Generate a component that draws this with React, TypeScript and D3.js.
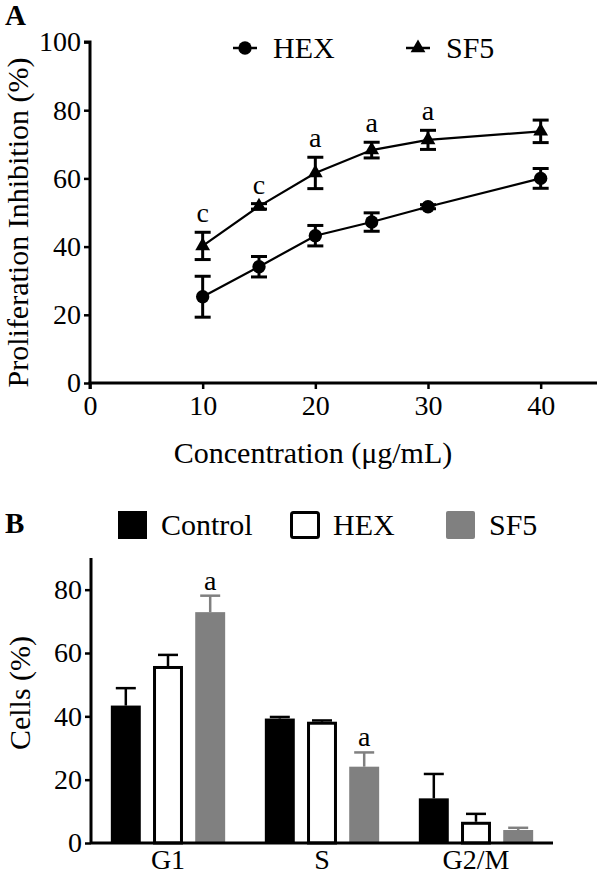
import React, { useEffect, useRef } from 'react';
import * as d3 from 'd3';

// Panel A: proliferation inhibition vs concentration
const concentrations = [10, 15, 20, 25, 30, 40];
const hexMean = [25.3, 34.1, 43.2, 47.2, 51.7, 60.0];
const hexErr = [6.0, 3.0, 3.0, 2.7, 0.6, 2.9];
const sf5Mean = [40.2, 51.8, 61.6, 68.3, 71.3, 73.8];
const sf5Err = [4.0, 0.8, 4.6, 2.3, 2.8, 3.3];
const sf5Marks = ['c', 'c', 'a', 'a', 'a', ''];
const xTicksA = [0, 10, 20, 30, 40];
const yTicksA = [0, 20, 40, 60, 80, 100];

// Panel B: cell cycle distribution
const phases = ['G1', 'S', 'G2/M'];
const groups = ['Control', 'HEX', 'SF5'];
const controlCells = [43.4, 39.3, 14.1];
const controlErr = [5.5, 0.5, 7.7];
const hexCells = [55.9, 38.3, 6.7];
const hexCellsErr = [3.5, 0.4, 2.5];
const sf5Cells = [72.9, 24.1, 4.1];
const sf5CellsErr = [5.2, 4.5, 0.7];
const sf5CellMarks = ['a', 'a', ''];
const yTicksB = [0, 20, 40, 60, 80];

const GRAY = '#808080';
const FONT = "'Liberation Serif', Tinos, 'Times New Roman', Times, 'Nimbus Roman', 'Nimbus Roman No9 L', FreeSerif, 'Noto Serif', 'DejaVu Serif', serif";

const App = () => {
  const ref = useRef<SVGSVGElement>(null);

  useEffect(() => {
    const svg = d3.select(ref.current);
    svg.selectAll('*').remove();

    // ---------- Panel A ----------
    const x = d3.scaleLinear().domain([0, 45]).range([90, 597]);
    const y = d3.scaleLinear().domain([0, 100]).range([383, 42]);
    const a = svg.append('g');

    a.append('text').attr('x', 5).attr('y', 25).style('font-size', '29px')
      .attr('font-weight', 'bold').text('A');

    const yAxisA = a.append('g').attr('transform', `translate(${x(0)},0)`)
      .call(d3.axisLeft(y).tickValues(yTicksA).tickSize(6).tickPadding(3));
    const xAxisA = a.append('g').attr('transform', `translate(0,${y(0)})`)
      .call(d3.axisBottom(x).tickValues(xTicksA).tickSize(6).tickPadding(6));
    [yAxisA, xAxisA].forEach(ax => {
      ax.attr('font-family', null).attr('font-size', null);
      ax.select('.domain').attr('stroke-width', 3);
      ax.selectAll('.tick line').attr('stroke-width', 2.5);
      ax.selectAll('.tick text').style('font-size', '28px').attr('fill', '#000');
    });
    yAxisA.select('.domain').attr('d', `M-6,${y(100)}H0V${y(0)}`);
    xAxisA.select('.domain').attr('d', `M${x(0)},6V0H${x(45)}`);

    a.append('text').attr('transform', `translate(28,${(y(0) + y(100)) / 2 + 10}) rotate(-90)`)
      .attr('text-anchor', 'middle').style('font-size', '30px').text('Proliferation Inhibition (%)');
    a.append('text').attr('x', 313).attr('y', 463).attr('text-anchor', 'middle')
      .style('font-size', '30px').text('Concentration (\u03bcg/mL)');

    const series = [
      { name: 'HEX', mean: hexMean, err: hexErr, symbol: d3.symbolCircle, size: 140 },
      { name: 'SF5', mean: sf5Mean, err: sf5Err, symbol: d3.symbolTriangle, size: 95 },
    ];
    const line = d3.line<number>().x((_, i) => x(concentrations[i])).y(d => y(d));

    series.forEach(s => {
      a.append('path').attr('d', line(s.mean)).attr('fill', 'none')
        .attr('stroke', '#000').attr('stroke-width', 2.2);
      s.mean.forEach((m, i) => {
        const cx = x(concentrations[i]);
        const top = y(m + s.err[i]);
        const bot = y(m - s.err[i]);
        const eb = a.append('g').attr('stroke', '#000').attr('stroke-width', 3);
        eb.append('line').attr('x1', cx).attr('x2', cx).attr('y1', top).attr('y2', bot);
        eb.append('line').attr('x1', cx - 8).attr('x2', cx + 8).attr('y1', top).attr('y2', top);
        eb.append('line').attr('x1', cx - 8).attr('x2', cx + 8).attr('y1', bot).attr('y2', bot);
        a.append('path').attr('d', d3.symbol(s.symbol, s.size)())
          .attr('transform', `translate(${cx},${y(m)})`).attr('fill', '#000');
      });
    });

    sf5Mean.forEach((m, i) => {
      if (!sf5Marks[i]) return;
      a.append('text').attr('x', x(concentrations[i])).attr('y', y(m + sf5Err[i]) - 10)
        .attr('text-anchor', 'middle').style('font-size', '28px').text(sf5Marks[i]);
    });

    // legend A
    const legA = [
      { name: 'HEX', symbol: d3.symbolCircle, size: 140, cx: 245 },
      { name: 'SF5', symbol: d3.symbolTriangle, size: 95, cx: 418 },
    ];
    legA.forEach(l => {
      a.append('line').attr('x1', l.cx - 12).attr('x2', l.cx + 12).attr('y1', 48).attr('y2', 48)
        .attr('stroke', '#000').attr('stroke-width', 2.5);
      a.append('path').attr('d', d3.symbol(l.symbol, l.size)())
        .attr('transform', `translate(${l.cx},48)`).attr('fill', '#000');
      a.append('text').attr('x', l.cx + 28).attr('y', 58).style('font-size', '30px').text(l.name);
    });

    // ---------- Panel B ----------
    const b = svg.append('g');
    const xB = d3.scaleBand().domain(phases).range([91, 553]);
    const xG = d3.scaleBand().domain(groups).range([0, xB.bandwidth()])
      .paddingInner(0.29).paddingOuter(0.47);
    const yB = d3.scaleLinear().domain([0, 90]).range([843, 558]);

    b.append('text').attr('x', 5).attr('y', 533).style('font-size', '29px')
      .attr('font-weight', 'bold').text('B');

    const values = [controlCells, hexCells, sf5Cells];
    const errs = [controlErr, hexCellsErr, sf5CellsErr];
    groups.forEach((g, gi) => {
      phases.forEach((p, pi) => {
        const v = values[gi][pi];
        const bx = xB(p)! + xG(g)!;
        const bw = xG.bandwidth();
        const col = g === 'SF5' ? GRAY : '#000';
        const topE = yB(v + errs[gi][pi]);
        const cx = bx + bw / 2;
        b.append('line').attr('x1', cx).attr('x2', cx).attr('y1', yB(v)).attr('y2', topE)
          .attr('stroke', col).attr('stroke-width', 2.5);
        b.append('line').attr('x1', cx - 10).attr('x2', cx + 10).attr('y1', topE).attr('y2', topE)
          .attr('stroke', col).attr('stroke-width', 2.5);
        if (g === 'HEX') {
          b.append('rect').attr('x', bx + 1.5).attr('y', yB(v) + 1.5)
            .attr('width', bw - 3).attr('height', yB(0) - yB(v) - 1.5)
            .attr('fill', '#fff').attr('stroke', '#000').attr('stroke-width', 3);
        } else {
          b.append('rect').attr('x', bx).attr('y', yB(v))
            .attr('width', bw).attr('height', yB(0) - yB(v)).attr('fill', col);
        }
      });
    });

    sf5Cells.forEach((v, i) => {
      if (!sf5CellMarks[i]) return;
      b.append('text').attr('x', xB(phases[i])! + xG('SF5')! + xG.bandwidth() / 2)
        .attr('y', yB(v + sf5CellsErr[i]) - 6).attr('text-anchor', 'middle')
        .style('font-size', '28px').text(sf5CellMarks[i]);
    });

    const yAxisB = b.append('g').attr('transform', `translate(91,0)`)
      .call(d3.axisLeft(yB).tickValues(yTicksB).tickSize(6).tickPadding(3));
    const xAxisB = b.append('g').attr('transform', `translate(0,${yB(0)})`)
      .call(d3.axisBottom(xB).tickSize(0).tickPadding(6));
    [yAxisB, xAxisB].forEach(ax => {
      ax.attr('font-family', null).attr('font-size', null);
      ax.select('.domain').attr('stroke-width', 3);
      ax.selectAll('.tick line').attr('stroke-width', 2.5);
      ax.selectAll('.tick text').style('font-size', '28px').attr('fill', '#000');
    });
    yAxisB.select('.domain').attr('d', `M0,${yB(90)}V${yB(0)}`);
    xAxisB.select('.domain').attr('d', `M91,0H553`);

    b.append('text').attr('transform', `translate(30,${693}) rotate(-90)`)
      .attr('text-anchor', 'middle').style('font-size', '30px').text('Cells (%)');

    // legend B
    const legB = [
      { name: 'Control', x: 118, fill: '#000', stroke: 'none' },
      { name: 'HEX', x: 290, fill: '#fff', stroke: '#000' },
      { name: 'SF5', x: 446, fill: GRAY, stroke: 'none' },
    ];
    legB.forEach(l => {
      if (l.stroke === 'none') {
        b.append('rect').attr('x', l.x).attr('y', 511).attr('width', 29).attr('height', 28)
          .attr('rx', l.name === 'SF5' ? 2 : 0).attr('fill', l.fill);
      } else {
        b.append('rect').attr('x', l.x + 1.5).attr('y', 512.5).attr('width', 27).attr('height', 25)
          .attr('rx', 2).attr('fill', l.fill).attr('stroke', l.stroke).attr('stroke-width', 3);
      }
      b.append('text').attr('x', l.x + 43).attr('y', 535).style('font-size', '30px').text(l.name);
    });
  }, []);

  return (
    <svg ref={ref} width={600} height={880}
      style={{ position: 'absolute', left: 0, top: 0, background: '#fff', fontFamily: FONT }} />
  );
};

export default App;
